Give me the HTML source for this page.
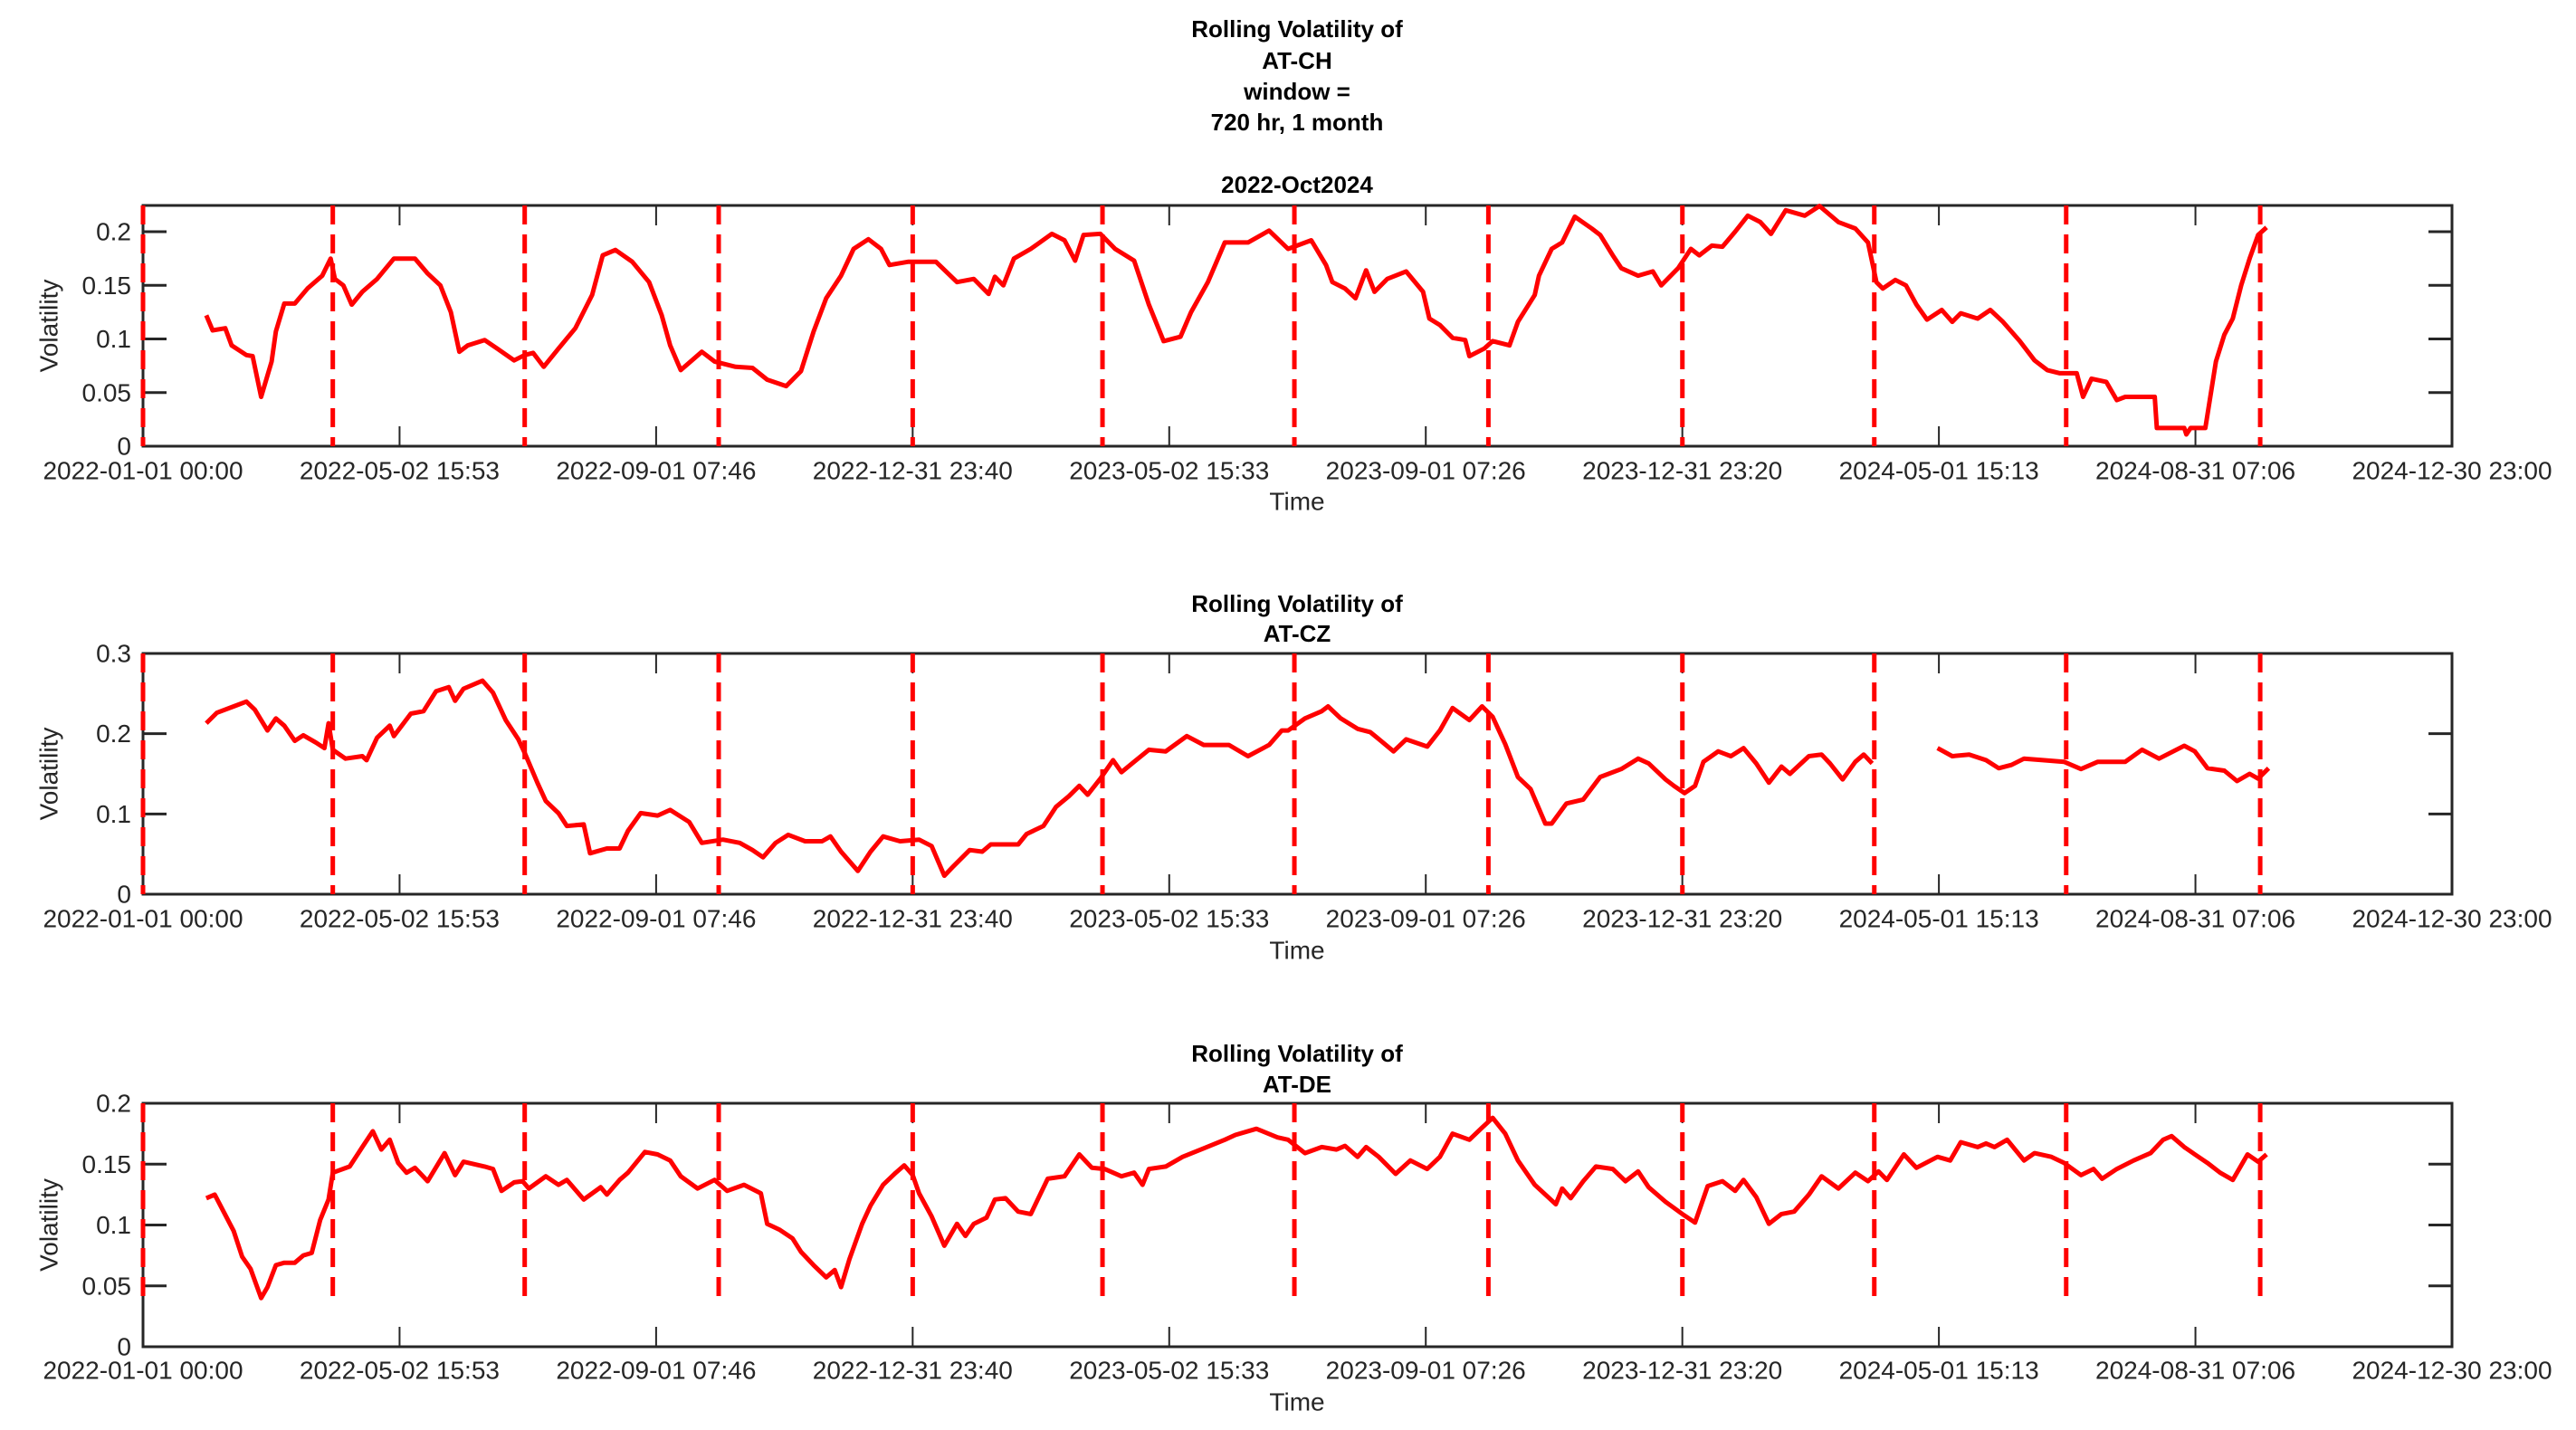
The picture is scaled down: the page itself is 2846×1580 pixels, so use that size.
<!DOCTYPE html>
<html><head><meta charset="utf-8"><style>
html,body{margin:0;padding:0;background:#fff;}
svg{display:block;font-family:"Liberation Sans",Arial,sans-serif;}
</style></head><body>
<svg id="chart" width="2846" height="1580" viewBox="0 0 2846 1580" xmlns="http://www.w3.org/2000/svg"></svg>
<script>
// ---- data (days since 2022-01-01 00:00, volatility) ----
const xTickLabels = ["2022-01-01 00:00","2022-05-02 15:53","2022-09-01 07:46","2022-12-31 23:40","2023-05-02 15:33","2023-09-01 07:26","2023-12-31 23:20","2024-05-01 15:13","2024-08-31 07:06","2024-12-30 23:00"];
const quarterDays = [0,90,181,273,365,455,546,638,730,821,912,1004];

const chDays = [30,33,39,42,49,52,56,61,63,67,72,78,85,89,91,95,99,104,111,119,129,135,141,146,150,154,162,168,176,181,185,190,197,205,213,218,224,232,240,246,250,255,265,271,281,289,296,305,312,318,324,331,337,344,350,354,363,368,376,386,394,401,404,408,413,421,431,437,442,446,454,461,470,477,484,492,497,505,513,524,534,543,554,561,564,570,575,580,584,590,599,607,610,615,621,627,629,636,640,648,652,660,662,668,673,679,687,691,697,701,709,716,720,728,734,738,744,749,755,761,767,772,779,788,795,804,812,818,822,825,831,836,841,846,853,858,862,870,876,882,890,897,903,909,917,920,924,931,936,940,954,955,968,969,971,978,983,987,991,995,999,1003,1007];
const chVals = [0.122,0.108,0.110,0.094,0.085,0.084,0.046,0.079,0.107,0.133,0.133,0.147,0.159,0.175,0.156,0.150,0.132,0.144,0.156,0.175,0.175,0.161,0.150,0.125,0.088,0.094,0.099,0.091,0.080,0.085,0.087,0.074,0.091,0.110,0.141,0.178,0.183,0.172,0.153,0.122,0.094,0.071,0.088,0.079,0.074,0.073,0.062,0.056,0.070,0.107,0.138,0.159,0.184,0.193,0.184,0.169,0.172,0.172,0.172,0.153,0.156,0.142,0.158,0.150,0.175,0.184,0.198,0.192,0.173,0.197,0.198,0.184,0.173,0.132,0.098,0.102,0.125,0.153,0.190,0.190,0.201,0.184,0.192,0.169,0.153,0.147,0.138,0.164,0.144,0.156,0.163,0.144,0.119,0.113,0.101,0.099,0.084,0.091,0.098,0.094,0.116,0.141,0.159,0.184,0.190,0.214,0.203,0.197,0.178,0.166,0.159,0.163,0.150,0.166,0.184,0.178,0.187,0.186,0.200,0.215,0.209,0.198,0.220,0.215,0.224,0.209,0.203,0.190,0.153,0.147,0.155,0.150,0.132,0.118,0.127,0.116,0.124,0.119,0.127,0.116,0.098,0.080,0.071,0.068,0.068,0.046,0.063,0.060,0.043,0.046,0.046,0.017,0.017,0.011,0.017,0.017,0.079,0.104,0.119,0.150,0.175,0.197,0.204];

const czDays = [30,35,43,49,53,59,63,67,72,76,82,86,88,90,96,104,106,111,117,119,127,133,139,145,148,152,161,166,172,178,181,187,191,197,201,209,212,220,226,230,236,244,250,259,265,275,283,289,294,300,306,314,322,326,331,339,345,351,359,368,374,380,384,392,398,402,415,419,427,433,439,444,448,454,460,464,470,477,485,495,503,515,524,534,540,543,551,559,562,568,576,582,588,593,599,609,615,621,629,635,640,646,652,658,665,668,675,683,691,701,709,714,722,726,731,736,740,747,753,759,765,771,777,781,790,796,800,806,812,816,820,835,851,858,866,874,880,886,892,901,911,919,927,940,948,956,968,973,979,987,993,999,1003,1008];
const czVals = [0.213,0.226,0.234,0.240,0.230,0.204,0.219,0.210,0.191,0.198,0.189,0.182,0.213,0.180,0.169,0.172,0.167,0.195,0.210,0.197,0.225,0.228,0.253,0.258,0.241,0.256,0.266,0.251,0.217,0.193,0.176,0.139,0.116,0.101,0.085,0.087,0.051,0.057,0.057,0.079,0.101,0.098,0.105,0.090,0.064,0.068,0.064,0.055,0.046,0.064,0.074,0.066,0.066,0.072,0.053,0.029,0.053,0.072,0.066,0.068,0.060,0.023,0.034,0.055,0.053,0.062,0.062,0.075,0.085,0.109,0.122,0.135,0.124,0.144,0.167,0.152,0.165,0.180,0.178,0.197,0.186,0.186,0.172,0.186,0.204,0.204,0.219,0.228,0.234,0.219,0.206,0.202,0.189,0.178,0.193,0.184,0.204,0.232,0.217,0.234,0.221,0.187,0.146,0.131,0.088,0.088,0.113,0.118,0.146,0.156,0.169,0.163,0.143,0.135,0.126,0.135,0.165,0.178,0.172,0.182,0.163,0.139,0.159,0.150,0.172,0.174,0.163,0.143,0.165,0.174,0.163,null,0.182,0.172,0.174,0.167,0.157,0.161,0.169,0.167,0.165,0.156,0.165,0.165,0.180,0.169,0.185,0.178,0.157,0.154,0.141,0.150,0.144,0.157];

const deDays = [30,34,37,43,47,51,56,59,63,67,72,76,80,84,88,90,98,104,109,113,117,121,125,129,135,143,148,152,162,166,170,176,180,183,191,197,201,209,217,220,226,230,238,244,250,255,263,271,277,285,293,296,302,308,312,318,324,328,331,335,341,345,351,357,361,365,368,374,380,386,390,394,400,404,409,415,421,429,437,444,450,456,464,470,474,477,485,493,503,513,518,528,538,543,551,559,566,570,576,580,586,594,601,609,615,621,629,635,640,646,652,660,670,673,677,683,689,697,703,709,714,722,730,736,742,749,755,759,765,771,777,783,790,796,804,812,818,823,827,835,841,851,857,862,870,874,878,884,892,897,905,911,919,925,929,936,944,952,958,962,968,973,979,985,991,998,1003,1007];
const deVals = [0.122,0.125,0.115,0.095,0.074,0.064,0.040,0.049,0.067,0.069,0.069,0.075,0.077,0.104,0.121,0.143,0.148,0.164,0.177,0.162,0.170,0.151,0.143,0.147,0.136,0.159,0.141,0.152,0.148,0.146,0.128,0.135,0.136,0.130,0.140,0.133,0.137,0.121,0.131,0.125,0.137,0.143,0.160,0.158,0.153,0.140,0.130,0.137,0.128,0.133,0.126,0.101,0.096,0.089,0.078,0.067,0.057,0.063,0.049,0.072,0.101,0.116,0.133,0.143,0.149,0.141,0.126,0.107,0.083,0.101,0.091,0.101,0.106,0.121,0.122,0.111,0.109,0.138,0.140,0.158,0.147,0.146,0.140,0.143,0.133,0.146,0.148,0.156,0.163,0.170,0.174,0.179,0.172,0.170,0.159,0.164,0.162,0.165,0.156,0.164,0.156,0.142,0.153,0.146,0.156,0.175,0.170,0.180,0.188,0.175,0.153,0.133,0.117,0.130,0.122,0.136,0.148,0.146,0.136,0.144,0.131,0.119,0.109,0.102,0.132,0.136,0.128,0.137,0.123,0.101,0.109,0.111,0.125,0.140,0.130,0.143,0.136,0.144,0.137,0.158,0.147,0.156,0.153,0.168,0.164,0.167,0.164,0.170,0.153,0.159,0.156,0.151,0.141,0.146,0.138,0.146,0.153,0.159,0.170,0.173,0.164,0.158,0.151,0.143,0.137,0.158,0.152,0.158];

const chYTicks = [0,0.05,0.1,0.15,0.2];
const czYTicks = [0,0.1,0.2,0.3];
const deYTicks = [0,0.05,0.1,0.15,0.2];

// ---- drawing ----
const NS = "http://www.w3.org/2000/svg";
const svg = document.getElementById('chart');
const X0 = 158, X1 = 2709, TOTAL = 1095 - 1/24;
function xs(d){ return X0 + d / TOTAL * (X1 - X0); }
function mk(tag, attrs, parent){
  const e = document.createElementNS(NS, tag);
  for (const k in attrs) e.setAttribute(k, attrs[k]);
  (parent || svg).appendChild(e);
  return e;
}
function txt(str, x, y, size, weight, anchor, parent){
  const t = mk('text', {x:x, y:y, 'font-size':size, 'font-weight':weight, 'text-anchor':anchor, 'dominant-baseline':'central', fill: weight==='bold' ? '#000' : '#262626'}, parent);
  t.textContent = str;
  return t;
}

function panel(cfg){
  const g = mk('g', {});
  
  
  const top = cfg.top, bot = cfg.bot;
  const ys = v => bot - v / cfg.ymax * (bot - top);
  // titles
  cfg.titles.forEach((s, i) => {
    const t = txt(s[0], 1433, s[1], 26, 'bold', 'middle', g);
    
    
  });
  // axes box
  const box = mk('rect', {x:X0, y:top, width:X1-X0, height:bot-top, fill:'none', stroke:'#262626', 'stroke-width':3}, g);
  
  
  // x ticks
  xTickLabels.forEach((lab, i) => {
    const d = i * TOTAL / 9;
    const x = xs(d);
    mk('line', {x1:x, y1:bot, x2:x, y2:bot-22, stroke:'#262626', 'stroke-width':2}, g);
    mk('line', {x1:x, y1:top, x2:x, y2:top+22, stroke:'#262626', 'stroke-width':2}, g);
    const t = txt(lab, x, cfg.tickY, 28, 'normal', 'middle', g);
    
    
  });
  // y ticks
  cfg.yticks.forEach(v => {
    const y = ys(v);
    mk('line', {x1:X0, y1:y, x2:X0+26, y2:y, stroke:'#262626', 'stroke-width':3}, g);
    mk('line', {x1:X1, y1:y, x2:X1-26, y2:y, stroke:'#262626', 'stroke-width':3}, g);
    const t = txt(String(v), 145, y, 28, 'normal', 'end', g);
    
    
  });
  // axis labels
  const xl = txt('Time', 1433, cfg.xlabY, 28, 'normal', 'middle', g);
  
  
  const yl = txt('Volatility', 0, 0, 28, 'normal', 'middle', g);
  yl.setAttribute('transform', 'translate(54,' + ((top+bot)/2) + ') rotate(-90)');
  
  
  // quarter dashed lines
  const dy = cfg.dashMin == null ? bot : ys(cfg.dashMin);
  quarterDays.forEach(d => {
    const l = mk('line', {x1:xs(d), y1:top, x2:xs(d), y2:dy, stroke:'#ff0000', 'stroke-width':5, 'stroke-dasharray':'21 11'}, g);
    
    
  });
  // series
  let dstr = '', pen = false;
  cfg.days.forEach((d, i) => {
    const v = cfg.vals[i];
    if (v == null) { pen = false; return; }
    dstr += (pen ? 'L' : 'M') + xs(d).toFixed(1) + ' ' + ys(v).toFixed(1);
    pen = true;
  });
  const p = mk('path', {d:dstr, fill:'none', stroke:'#ff0000', 'stroke-width':5, 'stroke-linejoin':'round'}, g);
  
  
}

panel({name:'panel-at-ch', top:227, bot:493, ymax:0.2245, yticks:chYTicks, days:chDays, vals:chVals,
  titles:[['Rolling Volatility of',32],['AT-CH',67],['window =',101],['720 hr, 1 month',135],['2022-Oct2024',204]],
  tickY:520, xlabY:554, dashMin:null});
panel({name:'panel-at-cz', top:722, bot:988, ymax:0.3, yticks:czYTicks, days:czDays, vals:czVals,
  titles:[['Rolling Volatility of',667],['AT-CZ',700]], tickY:1015, xlabY:1050, dashMin:null});
panel({name:'panel-at-de', top:1219, bot:1488, ymax:0.2, yticks:deYTicks, days:deDays, vals:deVals,
  titles:[['Rolling Volatility of',1164],['AT-DE',1198]], tickY:1514, xlabY:1549, dashMin:0.0395});
</script>
</body></html>
